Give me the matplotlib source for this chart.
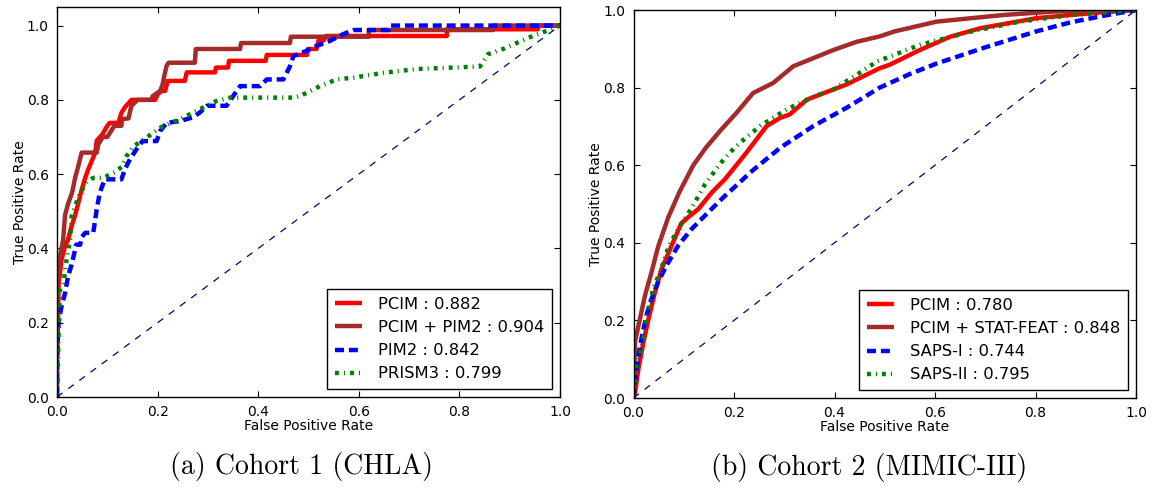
import matplotlib
matplotlib.use("Agg")
import matplotlib.pyplot as plt

# ---------------- data: Cohort 1 (CHLA) ----------------
c1_pcim_fpr = [0, 0, 0.002, 0.003, 0.009, 0.016, 0.022, 0.029, 0.036, 0.042, 0.049, 0.056, 0.062, 0.069, 0.076,
               0.079, 0.09, 0.1, 0.105, 0.122, 0.128, 0.135, 0.148, 0.195, 0.2, 0.208, 0.215, 0.22, 0.254, 0.258,
               0.314, 0.316, 0.34, 0.342, 0.415, 0.417, 0.497, 0.499, 0.516, 0.52, 0.53, 0.535, 0.775, 0.775,
               0.956, 0.956, 1.0]
c1_pcim_tpr = [0, 0.1, 0.2, 0.3, 0.37, 0.406, 0.424, 0.46, 0.49, 0.52, 0.558, 0.59, 0.613, 0.635, 0.658,
               0.69, 0.707, 0.73, 0.738, 0.738, 0.765, 0.78, 0.80, 0.80, 0.815, 0.824, 0.824, 0.851, 0.851, 0.874,
               0.874, 0.887, 0.887, 0.905, 0.905, 0.921, 0.921, 0.937, 0.937, 0.96, 0.96, 0.972, 0.972, 0.99,
               0.99, 1.0, 1.0]

c1_pcim_pim2_fpr = [0, 0, 0.002, 0.003, 0.006, 0.012, 0.016, 0.022, 0.03, 0.036, 0.042, 0.049, 0.079, 0.082,
                    0.091, 0.1, 0.114, 0.128, 0.129, 0.142, 0.148, 0.16, 0.188, 0.19, 0.205, 0.21, 0.214, 0.218,
                    0.222, 0.274, 0.276, 0.364, 0.366, 0.463, 0.465, 0.62, 0.62, 0.867, 0.867, 1.0]
c1_pcim_pim2_tpr = [0, 0.15, 0.3, 0.35, 0.38, 0.42, 0.49, 0.52, 0.55, 0.59, 0.62, 0.658, 0.658, 0.68,
                    0.70, 0.70, 0.73, 0.73, 0.748, 0.75, 0.784, 0.80, 0.80, 0.81, 0.824, 0.842, 0.869, 0.892,
                    0.90, 0.90, 0.937, 0.937, 0.953, 0.953, 0.97, 0.97, 0.988, 0.988, 1.0, 1.0]

c1_pim2_fpr = [0, 0, 0.003, 0.009, 0.016, 0.022, 0.029, 0.036, 0.038, 0.046, 0.049, 0.056, 0.072, 0.079,
               0.085, 0.095, 0.128, 0.135, 0.145, 0.158, 0.17, 0.198, 0.205, 0.218, 0.245, 0.27, 0.284, 0.298,
               0.337, 0.35, 0.364, 0.404, 0.417, 0.45, 0.463, 0.47, 0.496, 0.516, 0.543, 0.569, 0.59, 0.66,
               0.662, 1.0]
c1_pim2_tpr = [0, 0.1, 0.2, 0.244, 0.28, 0.325, 0.356, 0.397, 0.41, 0.41, 0.43, 0.442, 0.442, 0.505,
               0.55, 0.586, 0.586, 0.613, 0.64, 0.667, 0.689, 0.689, 0.716, 0.738, 0.743, 0.753, 0.766, 0.784,
               0.784, 0.81, 0.837, 0.837, 0.855, 0.855, 0.89, 0.918, 0.932, 0.945, 0.959, 0.977, 0.988, 0.988,
               1.0, 1.0]

c1_prism3_fpr = [0, 0.002, 0.003, 0.006, 0.013, 0.019, 0.026, 0.029, 0.036, 0.046, 0.059, 0.072, 0.092,
                 0.115, 0.129, 0.138, 0.152, 0.178, 0.205, 0.245, 0.284, 0.317, 0.344, 0.47, 0.483, 0.523,
                 0.556, 0.59, 0.65, 0.715, 0.841, 0.857, 0.887, 0.917, 0.946, 0.974, 1.0]
c1_prism3_tpr = [0, 0.1, 0.163, 0.29, 0.307, 0.37, 0.424, 0.487, 0.514, 0.55, 0.577, 0.59, 0.59,
                 0.605, 0.62, 0.648, 0.675, 0.698, 0.725, 0.748, 0.775, 0.797, 0.806, 0.806, 0.81, 0.837,
                 0.855, 0.86, 0.873, 0.883, 0.89, 0.923, 0.937, 0.955, 0.972, 0.986, 1.0]

c1_labels = ["PCIM : 0.882", "PCIM + PIM2 : 0.904", "PIM2 : 0.842", "PRISM3 : 0.799"]

# ---------------- data: Cohort 2 (MIMIC-III) ----------------
c2_pcim_fpr = [0, 0.003, 0.01, 0.02, 0.03, 0.043, 0.056, 0.076, 0.095, 0.109, 0.129, 0.156, 0.182, 0.209,
               0.225, 0.265, 0.292, 0.311, 0.345, 0.371, 0.424, 0.49, 0.51, 0.57, 0.63, 0.69, 0.729, 0.802,
               0.869, 0.94, 1.0]
c2_pcim_tpr = [0, 0.013, 0.077, 0.145, 0.205, 0.274, 0.333, 0.393, 0.45, 0.466, 0.487, 0.53, 0.564, 0.607,
               0.633, 0.701, 0.722, 0.731, 0.769, 0.782, 0.808, 0.85, 0.859, 0.897, 0.931, 0.953, 0.962, 0.979,
               0.987, 0.995, 1.0]

c2_pcim_stat_fpr = [0, 0.001, 0.003, 0.013, 0.023, 0.036, 0.049, 0.069, 0.091, 0.119, 0.144, 0.172, 0.205,
                    0.238, 0.278, 0.318, 0.358, 0.398, 0.444, 0.49, 0.52, 0.603, 0.735, 0.835, 1.0]
c2_pcim_stat_tpr = [0, 0.06, 0.145, 0.205, 0.265, 0.325, 0.39, 0.465, 0.53, 0.6, 0.645, 0.688, 0.735,
                    0.786, 0.812, 0.855, 0.876, 0.897, 0.918, 0.932, 0.945, 0.97, 0.987, 0.996, 1.0]

c2_saps1_fpr = [0, 0.003, 0.01, 0.016, 0.026, 0.036, 0.049, 0.066, 0.089, 0.116, 0.149, 0.182, 0.215,
                0.232, 0.292, 0.358, 0.424, 0.49, 0.55, 0.603, 0.703, 0.802, 0.869, 0.935, 1.0]
c2_saps1_tpr = [0, 0.043, 0.111, 0.154, 0.214, 0.256, 0.299, 0.342, 0.393, 0.436, 0.479, 0.521, 0.56,
                0.581, 0.645, 0.701, 0.748, 0.80, 0.835, 0.862, 0.905, 0.945, 0.968, 0.985, 1.0]

c2_saps2_fpr = [0, 0.006, 0.016, 0.026, 0.039, 0.053, 0.07, 0.089, 0.116, 0.142, 0.172, 0.192, 0.212,
                0.252, 0.305, 0.358, 0.398, 0.45, 0.484, 0.57, 0.67, 0.769, 0.869, 0.935, 1.0]
c2_saps2_tpr = [0, 0.085, 0.128, 0.205, 0.282, 0.325, 0.39, 0.436, 0.49, 0.55, 0.603, 0.633, 0.658,
                0.701, 0.744, 0.776, 0.795, 0.838, 0.867, 0.91, 0.944, 0.97, 0.987, 0.993, 1.0]

c2_labels = ["PCIM : 0.780", "PCIM + STAT-FEAT : 0.848", "SAPS-I : 0.744", "SAPS-II : 0.795"]

captions = ["(a) Cohort 1 (CHLA)", "(b) Cohort 2 (MIMIC-III)"]
diag = [0, 1]

# ---------------- style ----------------
plt.rcParams.update({
    "font.family": "DejaVu Sans",
    "font.size": 10,
    "xtick.direction": "in",
    "ytick.direction": "in",
    "xtick.top": True,
    "ytick.right": True,
    "xtick.major.size": 4,
    "ytick.major.size": 4,
    "xtick.major.pad": 6,
    "ytick.major.pad": 6,
    "lines.scale_dashes": False,
    "axes.linewidth": 1.0,
})

W, H = 1156, 494
fig = plt.figure(figsize=(W / 100, H / 100), dpi=100)
fig.patch.set_facecolor("white")

ax1 = fig.add_axes([57 / W, (H - 397) / H, 503 / W, 390 / H])
ax2 = fig.add_axes([633.5 / W, (H - 398) / H, 502.5 / W, 388 / H])

LW = 3.2
styles = [
    dict(color="red", lw=LW, ls="-"),
    dict(color="#a52a2a", lw=LW, ls="-"),
    dict(color="blue", lw=LW, ls=(0, (6.5, 3.5))),
    dict(color="green", lw=LW, ls=(0, (2.8, 3.6, 0.8, 3.6))),
]

def draw(ax, curves, labels, ymax):
    for (fx, ty), st, lab in zip(curves, styles, labels):
        ax.plot(fx, ty, label=lab, solid_capstyle="butt", dash_capstyle="butt", **st)
    ax.plot(diag, diag, color="navy", lw=0.9, ls=(0, (5, 5)))
    ax.set_xlim(0, 1)
    ax.set_ylim(0, ymax)
    ax.set_xticks([0, 0.2, 0.4, 0.6, 0.8, 1.0])
    ax.set_yticks([0, 0.2, 0.4, 0.6, 0.8, 1.0])
    ax.set_xlabel("False Positive Rate", fontsize=10, labelpad=0)
    ax.set_ylabel("True Positive Rate", fontsize=10, labelpad=0)
    leg = ax.legend(loc="lower right", fontsize=11.8, fancybox=False, framealpha=1,
                    edgecolor="black", handlelength=1.65, labelspacing=0.5,
                    borderpad=0.45, handletextpad=1.0)
    leg.get_frame().set_linewidth(1.0)

draw(ax1, [(c1_pcim_fpr, c1_pcim_tpr), (c1_pcim_pim2_fpr, c1_pcim_pim2_tpr),
           (c1_pim2_fpr, c1_pim2_tpr), (c1_prism3_fpr, c1_prism3_tpr)], c1_labels, 1.05)
draw(ax2, [(c2_pcim_fpr, c2_pcim_tpr), (c2_pcim_stat_fpr, c2_pcim_stat_tpr),
           (c2_saps1_fpr, c2_saps1_tpr), (c2_saps2_fpr, c2_saps2_tpr)], c2_labels, 1.0)

fig.text(301 / W, 1 - 466 / H, captions[0], ha="center", va="center", fontsize=20, family="cmr10")
fig.text(869 / W, 1 - 467 / H, captions[1], ha="center", va="center", fontsize=20, family="cmr10")

fig.savefig("out.png", dpi=100, facecolor="white")
